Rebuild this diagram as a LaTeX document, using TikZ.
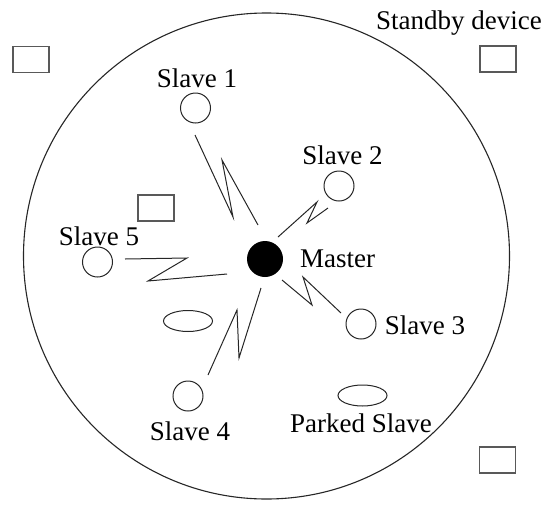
\documentclass[tikz,border=0pt]{standalone}
\usepackage{fontspec}
\setmainfont{Liberation Serif}
\usetikzlibrary{shapes.geometric}
\begin{document}
\begin{tikzpicture}[x=1pt,y=-1pt,
  every node/.style={font=\fontsize{27}{30}\selectfont, text=black},
  slave/.style={draw=black!85, line width=1pt, circle, minimum size=30pt, inner sep=0pt},
  parked/.style={draw=black!85, line width=1pt, ellipse, minimum width=49pt, minimum height=21pt, inner sep=0pt},
  standby/.style={draw=black!65, line width=1.2pt, rectangle, minimum width=36pt, minimum height=26pt, inner sep=0pt},
  master/.style={fill=black, circle, minimum size=36pt, inner sep=0pt},
  lbl/.style={anchor=base, inner sep=0pt},
  zig/.style={draw=black!85, line width=1pt, line join=miter}]
\useasboundingbox (0,0) rectangle (549,504);
\node[draw=black!85, line width=1.1pt, circle, minimum size=486pt, inner sep=0pt] (piconet) at (266.5,256) {};
% master
\node[master] (m) at (265,259) {};
\node[lbl, anchor=base west] (ml) at (300,267) {Master};
% slaves
\node[slave] (s1) at (195.5,108) {};
\node[lbl] (s1l) at (197,87) {Slave 1};
\node[slave] (s2) at (339,186) {};
\node[lbl] (s2l) at (342.5,164) {Slave 2};
\node[slave] (s3) at (361,324) {};
\node[lbl] (s3l) at (425,334) {Slave 3};
\node[slave] (s4) at (188,396) {};
\node[lbl] (s4l) at (190,440) {Slave 4};
\node[slave] (s5) at (97.5,262) {};
\node[lbl] (s5l) at (99,245) {Slave 5};
% parked
\node[parked] (p1) at (362.5,395.5) {};
\node[lbl] (pl) at (361,432) {Parked Slave};
\node[parked] (p2) at (188,321) {};
% standby
\node[standby] (d1) at (31,59.5) {};
\node[standby] (d2) at (498,59) {};
\node[standby] (d3) at (156,208) {};
\node[standby] (d4) at (497.5,460) {};
\node[lbl] (dl) at (459,29) {Standby device};
% zigzag links
\coordinate (a1) at (195,135); \coordinate (a2) at (233,217); \coordinate (a3) at (222,160); \coordinate (a4) at (258,225);
\coordinate (b1) at (278,237); \coordinate (b2) at (317,202); \coordinate (b3) at (307,223); \coordinate (b4) at (328,208);
\coordinate (c1) at (282,280); \coordinate (c2) at (312,305); \coordinate (c3) at (303,277); \coordinate (c4) at (341,313);
\coordinate (e1) at (261,288); \coordinate (e2) at (239,358); \coordinate (e3) at (237,310); \coordinate (e4) at (208,375);
\coordinate (f1) at (125,259); \coordinate (f2) at (187,258); \coordinate (f3) at (148,281); \coordinate (f4) at (227,274);
\draw[zig] (a1) -- (a2) -- (a3) -- (a4);
\draw[zig] (b1) -- (b2) -- (b3) -- (b4);
\draw[zig] (c1) -- (c2) -- (c3) -- (c4);
\draw[zig] (e1) -- (e2) -- (e3) -- (e4);
\draw[zig] (f1) -- (f2) -- (f3) -- (f4);
\end{tikzpicture}
\end{document}
